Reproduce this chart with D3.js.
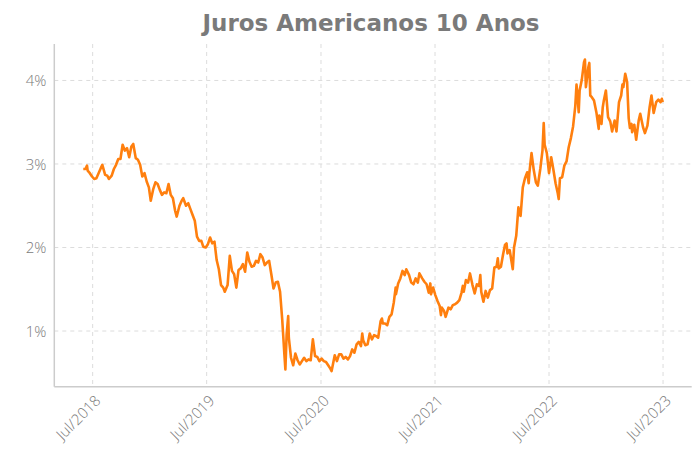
<!DOCTYPE html>
<html>
<head>
<meta charset="utf-8">
<script src="https://cdn.jsdelivr.net/npm/d3@7"></script>
<style>
  html, body { margin: 0; padding: 0; background: #fff; }
  svg { display: block; }
</style>
</head>
<body>
<svg id="chart" width="699" height="450"></svg>
<script>
// US 10-year Treasury yield (%), roughly weekly readings with key highs and lows
const yields2018 = [
  ["2018-06-01", 2.94], ["2018-06-08", 2.94], ["2018-06-13", 2.98], ["2018-06-15", 2.92],
  ["2018-06-22", 2.89], ["2018-06-29", 2.85], ["2018-07-06", 2.82], ["2018-07-13", 2.83],
  ["2018-07-20", 2.89], ["2018-07-27", 2.95], ["2018-08-01", 2.99], ["2018-08-10", 2.87],
  ["2018-08-17", 2.86], ["2018-08-22", 2.82], ["2018-08-31", 2.86], ["2018-09-07", 2.94],
  ["2018-09-14", 2.99], ["2018-09-21", 3.06], ["2018-09-28", 3.06], ["2018-10-05", 3.23],
  ["2018-10-12", 3.16], ["2018-10-19", 3.19], ["2018-10-26", 3.08], ["2018-11-02", 3.21],
  ["2018-11-08", 3.24], ["2018-11-16", 3.07], ["2018-11-23", 3.05], ["2018-11-30", 2.99],
  ["2018-12-07", 2.85], ["2018-12-14", 2.89], ["2018-12-21", 2.79], ["2018-12-28", 2.72]
];
const yields2019 = [
  ["2019-01-03", 2.56], ["2019-01-11", 2.70], ["2019-01-18", 2.78], ["2019-01-25", 2.76],
  ["2019-02-01", 2.69], ["2019-02-08", 2.63], ["2019-02-15", 2.66], ["2019-02-22", 2.65],
  ["2019-03-01", 2.76], ["2019-03-08", 2.63], ["2019-03-15", 2.59], ["2019-03-22", 2.44],
  ["2019-03-27", 2.37], ["2019-04-05", 2.50], ["2019-04-12", 2.56], ["2019-04-17", 2.59],
  ["2019-04-26", 2.50], ["2019-05-03", 2.53], ["2019-05-10", 2.46], ["2019-05-17", 2.39],
  ["2019-05-24", 2.32], ["2019-05-31", 2.13], ["2019-06-07", 2.08], ["2019-06-14", 2.08],
  ["2019-06-20", 2.01], ["2019-06-28", 2.00], ["2019-07-05", 2.04], ["2019-07-12", 2.12],
  ["2019-07-19", 2.05], ["2019-07-26", 2.07], ["2019-08-02", 1.85], ["2019-08-09", 1.74],
  ["2019-08-16", 1.55], ["2019-08-23", 1.52], ["2019-08-28", 1.47], ["2019-09-06", 1.55],
  ["2019-09-13", 1.90], ["2019-09-20", 1.72], ["2019-09-27", 1.68], ["2019-10-04", 1.52],
  ["2019-10-11", 1.73], ["2019-10-18", 1.75], ["2019-10-25", 1.80], ["2019-11-01", 1.71],
  ["2019-11-08", 1.94], ["2019-11-15", 1.83], ["2019-11-22", 1.77], ["2019-11-29", 1.78],
  ["2019-12-06", 1.84], ["2019-12-13", 1.82], ["2019-12-20", 1.92], ["2019-12-27", 1.88]
];
const yields2020 = [
  ["2020-01-03", 1.79], ["2020-01-10", 1.82], ["2020-01-17", 1.84], ["2020-01-24", 1.68],
  ["2020-01-31", 1.51], ["2020-02-07", 1.58], ["2020-02-14", 1.59], ["2020-02-21", 1.47],
  ["2020-02-28", 1.13], ["2020-03-06", 0.71], ["2020-03-09", 0.54], ["2020-03-13", 0.96],
  ["2020-03-18", 1.18], ["2020-03-20", 0.92], ["2020-03-27", 0.68], ["2020-04-03", 0.59],
  ["2020-04-10", 0.73], ["2020-04-17", 0.65], ["2020-04-24", 0.60], ["2020-05-01", 0.64],
  ["2020-05-08", 0.68], ["2020-05-15", 0.64], ["2020-05-22", 0.66], ["2020-05-29", 0.65],
  ["2020-06-05", 0.90], ["2020-06-12", 0.70], ["2020-06-19", 0.69], ["2020-06-26", 0.64],
  ["2020-07-03", 0.67], ["2020-07-10", 0.64], ["2020-07-17", 0.63], ["2020-07-24", 0.59],
  ["2020-07-31", 0.55], ["2020-08-04", 0.52], ["2020-08-14", 0.71], ["2020-08-21", 0.64],
  ["2020-08-28", 0.72], ["2020-09-04", 0.72], ["2020-09-11", 0.67], ["2020-09-18", 0.69],
  ["2020-09-25", 0.66], ["2020-10-02", 0.70], ["2020-10-09", 0.78], ["2020-10-16", 0.74],
  ["2020-10-23", 0.84], ["2020-10-30", 0.87], ["2020-11-06", 0.82], ["2020-11-10", 0.97],
  ["2020-11-13", 0.89], ["2020-11-20", 0.83], ["2020-11-27", 0.84], ["2020-12-04", 0.97],
  ["2020-12-11", 0.90], ["2020-12-18", 0.95], ["2020-12-24", 0.94], ["2020-12-31", 0.92]
];
const yields2021 = [
  ["2021-01-08", 1.12], ["2021-01-12", 1.15], ["2021-01-15", 1.09], ["2021-01-22", 1.09],
  ["2021-01-29", 1.07], ["2021-02-05", 1.17], ["2021-02-12", 1.20], ["2021-02-19", 1.34],
  ["2021-02-25", 1.52], ["2021-02-26", 1.44], ["2021-03-05", 1.57], ["2021-03-12", 1.63],
  ["2021-03-19", 1.72], ["2021-03-26", 1.67], ["2021-03-31", 1.74], ["2021-04-09", 1.67],
  ["2021-04-16", 1.58], ["2021-04-23", 1.56], ["2021-04-30", 1.63], ["2021-05-07", 1.58],
  ["2021-05-12", 1.69], ["2021-05-21", 1.63], ["2021-05-28", 1.59], ["2021-06-04", 1.56],
  ["2021-06-11", 1.46], ["2021-06-16", 1.57], ["2021-06-18", 1.44], ["2021-06-25", 1.52],
  ["2021-07-02", 1.43], ["2021-07-09", 1.36], ["2021-07-16", 1.30], ["2021-07-20", 1.19],
  ["2021-07-23", 1.28], ["2021-07-30", 1.24], ["2021-08-04", 1.17], ["2021-08-13", 1.28],
  ["2021-08-20", 1.26], ["2021-08-27", 1.31], ["2021-09-03", 1.32], ["2021-09-10", 1.34],
  ["2021-09-17", 1.37], ["2021-09-24", 1.46], ["2021-09-28", 1.54], ["2021-10-01", 1.47],
  ["2021-10-08", 1.61], ["2021-10-15", 1.58], ["2021-10-21", 1.69], ["2021-10-29", 1.55],
  ["2021-11-05", 1.45], ["2021-11-12", 1.56], ["2021-11-19", 1.54], ["2021-11-23", 1.67],
  ["2021-11-26", 1.47], ["2021-12-03", 1.35], ["2021-12-10", 1.48], ["2021-12-17", 1.40],
  ["2021-12-24", 1.49], ["2021-12-31", 1.51]
];
const yields2022 = [
  ["2022-01-07", 1.76], ["2022-01-14", 1.77], ["2022-01-18", 1.87], ["2022-01-21", 1.75],
  ["2022-01-28", 1.77], ["2022-02-04", 1.92], ["2022-02-10", 2.03], ["2022-02-15", 2.05],
  ["2022-02-18", 1.93], ["2022-02-25", 1.97], ["2022-03-07", 1.74], ["2022-03-11", 2.00],
  ["2022-03-18", 2.14], ["2022-03-25", 2.48], ["2022-03-29", 2.39], ["2022-04-01", 2.38],
  ["2022-04-08", 2.72], ["2022-04-15", 2.83], ["2022-04-22", 2.90], ["2022-04-27", 2.77],
  ["2022-04-29", 2.89], ["2022-05-06", 3.13], ["2022-05-13", 2.93], ["2022-05-20", 2.78],
  ["2022-05-26", 2.74], ["2022-06-03", 2.94], ["2022-06-10", 3.16], ["2022-06-14", 3.49],
  ["2022-06-17", 3.23], ["2022-06-24", 3.13], ["2022-07-01", 2.89], ["2022-07-08", 3.08],
  ["2022-07-15", 2.93], ["2022-07-22", 2.77], ["2022-07-29", 2.65], ["2022-08-01", 2.58],
  ["2022-08-05", 2.83], ["2022-08-12", 2.84], ["2022-08-19", 2.98], ["2022-08-26", 3.03],
  ["2022-09-02", 3.20], ["2022-09-09", 3.31], ["2022-09-16", 3.45], ["2022-09-23", 3.69],
  ["2022-09-27", 3.95], ["2022-09-30", 3.83], ["2022-10-04", 3.62], ["2022-10-07", 3.88],
  ["2022-10-14", 4.01], ["2022-10-21", 4.22], ["2022-10-24", 4.25], ["2022-10-27", 3.92],
  ["2022-11-04", 4.16], ["2022-11-07", 4.21], ["2022-11-10", 3.82], ["2022-11-15", 3.80],
  ["2022-11-22", 3.76], ["2022-11-30", 3.61], ["2022-12-07", 3.42], ["2022-12-09", 3.58],
  ["2022-12-16", 3.48], ["2022-12-20", 3.68], ["2022-12-23", 3.75], ["2022-12-30", 3.88]
];
const yields2023 = [
  ["2023-01-06", 3.56], ["2023-01-13", 3.51], ["2023-01-19", 3.39], ["2023-01-27", 3.52],
  ["2023-02-02", 3.39], ["2023-02-10", 3.74], ["2023-02-17", 3.82], ["2023-02-21", 3.95],
  ["2023-02-24", 3.92], ["2023-03-02", 4.08], ["2023-03-08", 3.98], ["2023-03-13", 3.55],
  ["2023-03-17", 3.43], ["2023-03-22", 3.48], ["2023-03-24", 3.38], ["2023-03-31", 3.47],
  ["2023-04-06", 3.29], ["2023-04-14", 3.52], ["2023-04-19", 3.60], ["2023-04-28", 3.44],
  ["2023-05-04", 3.37], ["2023-05-12", 3.46], ["2023-05-19", 3.68], ["2023-05-25", 3.82],
  ["2023-06-01", 3.61], ["2023-06-09", 3.74], ["2023-06-16", 3.77], ["2023-06-23", 3.74],
  ["2023-06-27", 3.78], ["2023-06-30", 3.74]
];

const yTicks = [1, 2, 3, 4];
const xTickDates = ["2018-07-01", "2019-07-01", "2020-07-01", "2021-07-01", "2022-07-01", "2023-07-01"];
const titleText = "Juros Americanos 10 Anos";

const parse = d3.utcParse("%Y-%m-%d");
const series = [].concat(yields2018, yields2019, yields2020, yields2021, yields2022, yields2023)
  .map(([d, v]) => ({ date: parse(d), value: v }));

const W = 699, H = 450;
const plot = { left: 54.3, right: 691.7, top: 44, bottom: 386.7 };

// Pad both extents by 5% on each side
const pad = (lo, hi, f) => [lo - (hi - lo) * f, hi + (hi - lo) * f];
const [t0, t1] = d3.extent(series, d => +d.date);
const [v0, v1] = d3.extent(series, d => d.value);
const xDom = pad(t0, t1, 0.05);
const yDom = pad(v0, v1, 0.05);

const x = d3.scaleUtc().domain([new Date(xDom[0]), new Date(xDom[1])]).range([plot.left, plot.right]);
const y = d3.scaleLinear().domain(yDom).range([plot.bottom, plot.top]);

const svg = d3.select("#chart");

// Grid
const grid = svg.append("g").attr("stroke", "#dcdcdc").attr("stroke-width", 1)
  .attr("stroke-dasharray", "4,4").attr("fill", "none");
grid.selectAll("line.h").data(yTicks).join("line").attr("class", "h")
  .attr("x1", plot.left).attr("x2", plot.right)
  .attr("y1", d => y(d)).attr("y2", d => y(d));
grid.selectAll("line.v").data(xTickDates.map(parse)).join("line").attr("class", "v")
  .attr("x1", d => x(d)).attr("x2", d => x(d))
  .attr("y1", plot.top).attr("y2", plot.bottom);

// Axes built from the scales, then restyled
const yAxis = svg.append("g").attr("transform", `translate(${plot.left},0)`)
  .call(d3.axisLeft(y).tickValues(yTicks).tickSize(0).tickPadding(8).tickFormat(d => d + "%"));
const xAxis = svg.append("g").attr("transform", `translate(0,${plot.bottom})`)
  .call(d3.axisBottom(x).tickValues(xTickDates.map(parse)).tickSize(0)
    .tickFormat(d => "Jul/" + d3.utcFormat("%Y")(d)));

[yAxis, xAxis].forEach(a => {
  a.select(".domain").remove();
  a.selectAll("text").attr("fill", "#7a7a7a")
    .style("font-family", "'Open Sans', sans-serif")
    .style("font-weight", "300")
    .style("font-size", "15px");
});
yAxis.selectAll("text").attr("dy", "0.36em");
xAxis.selectAll("text")
  .attr("text-anchor", "end")
  .attr("x", 0).attr("y", 0).attr("dy", 0)
  .attr("transform", "translate(8.5,15) rotate(-45)");

// Spines
svg.append("line").attr("x1", plot.left).attr("x2", plot.left)
  .attr("y1", plot.top).attr("y2", plot.bottom)
  .attr("stroke", "#cccccc").attr("stroke-width", 1.5);
svg.append("line").attr("x1", plot.left).attr("x2", plot.right)
  .attr("y1", plot.bottom).attr("y2", plot.bottom)
  .attr("stroke", "#cccccc").attr("stroke-width", 1.5);

// Yield line
const line = d3.line().x(d => x(d.date)).y(d => y(d.value));
svg.append("path").datum(series)
  .attr("d", line)
  .attr("fill", "none")
  .attr("stroke", "#ff7f0e")
  .attr("stroke-width", 2.6)
  .attr("stroke-linejoin", "round");

// Title
svg.append("text")
  .attr("x", (plot.left + plot.right) / 2 - 2)
  .attr("y", 31)
  .attr("text-anchor", "middle")
  .attr("fill", "#7a7a7a")
  .style("font-family", "'DejaVu Sans', sans-serif")
  .style("font-weight", "bold")
  .style("font-size", "23px")
  .text(titleText);
</script>
</body>
</html>
